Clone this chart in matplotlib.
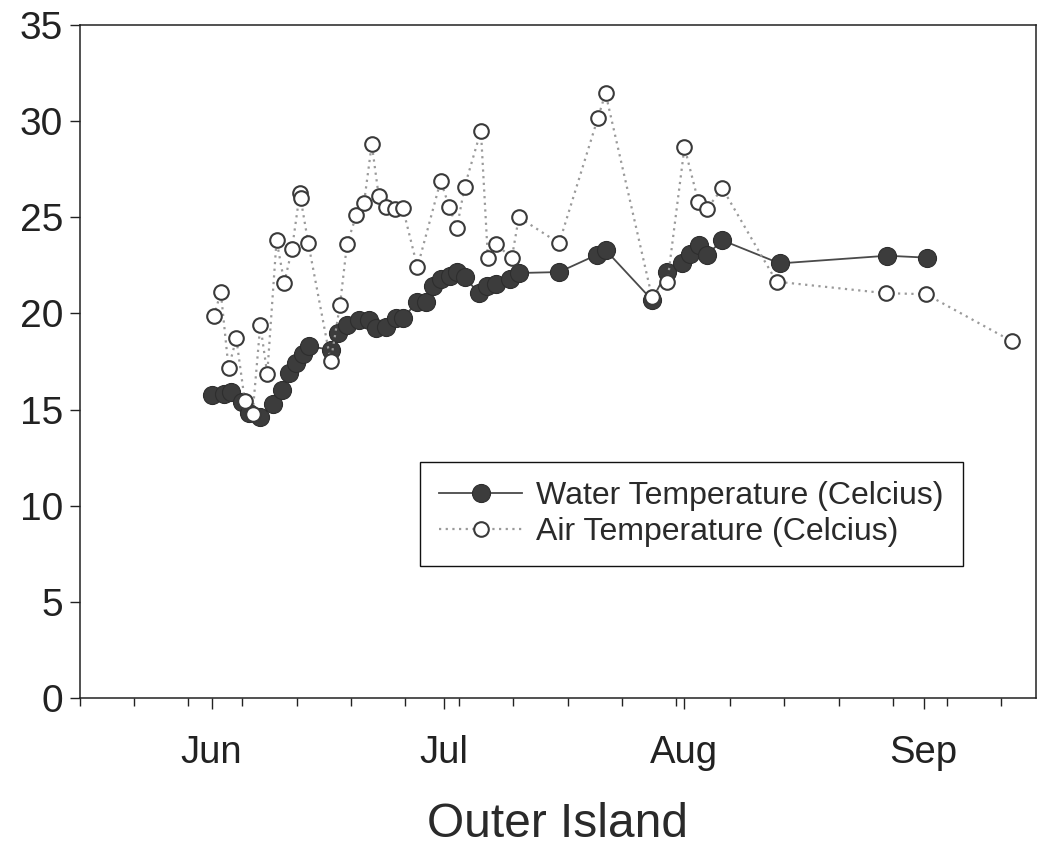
"""
Outer Island water / air temperature, Jun - Sep.
"""

import numpy as np
import matplotlib as mpl
import matplotlib.pyplot as plt

C_WATER_LINE = '#4a4a4a'
C_WATER_MK   = '#3c3c3c'
C_AIR_LINE   = '#9a9a9a'
C_AIR_EDGE   = '#3a3a3a'

# ── 1. Data (days counted from 1 June) ───────────────────────────────────────
water_day = [0.0, 1.6, 2.5, 3.9, 4.8, 6.3, 8.0, 9.1, 10.0, 10.9, 11.8, 12.6,
             15.4, 16.4, 17.5, 19.0, 20.3, 21.3, 22.5, 23.8, 24.8, 26.5,
             27.7, 28.6, 29.6, 30.8, 31.7, 32.7, 34.5, 35.6, 36.7, 38.5,
             39.7, 44.9, 49.8, 50.9, 56.9, 58.8, 60.8, 61.8, 63.0, 64.0,
             66.0, 73.4, 87.3, 92.4]
water_temp = [15.75, 15.8, 15.9, 15.4, 14.8, 14.6, 15.3, 16.0, 16.9, 17.4,
              17.9, 18.3, 18.1, 19.0, 19.4, 19.65, 19.65, 19.25, 19.3, 19.75,
              19.75, 20.6, 20.6, 21.4, 21.8, 21.95, 22.15, 21.9, 21.05, 21.45,
              21.55, 21.8, 22.1, 22.15, 23.05, 23.3, 20.7, 22.15, 22.6, 23.1,
              23.55, 23.05, 23.8, 22.6, 23.0, 22.9]

air_day = [0.3, 1.2, 2.2, 3.2, 4.3, 5.3, 6.3, 7.2, 8.4, 9.4, 10.4, 11.4,
           11.5, 12.5, 15.4, 16.6, 17.5, 18.7, 19.7, 20.7, 21.6, 22.5, 23.7,
           24.7, 26.6, 29.6, 30.7, 31.7, 32.7, 34.8, 35.7, 36.7, 38.8, 39.7,
           44.9, 49.9, 50.9, 56.9, 58.9, 61.1, 62.9, 64.0, 66.0, 73.0, 87.1,
           92.3, 103.4]
air_temp = [19.85, 21.1, 17.15, 18.7, 15.45, 14.75, 19.4, 16.85, 23.8, 21.6,
            23.35, 26.25, 26.0, 23.65, 17.5, 20.45, 23.6, 25.1, 25.75, 28.8,
            26.1, 25.55, 25.45, 25.5, 22.4, 26.9, 25.55, 24.45, 26.6, 29.5,
            22.9, 23.6, 22.9, 25.0, 23.65, 30.15, 31.45, 20.85, 21.65, 28.65,
            25.8, 25.45, 26.5, 21.65, 21.05, 21.0, 18.55]

month_day    = [0, 30, 61, 92]
month_labels = ['Jun', 'Jul', 'Aug', 'Sep']
week_day     = list(range(-17, 106, 7))   # weekly ticks from 15 May
y_ticks      = [0, 5, 10, 15, 20, 25, 30, 35]

# ── 2. Style ─────────────────────────────────────────────────────────────────
mpl.rcParams.update({
    'font.family':     ['Liberation Sans', 'DejaVu Sans'],
    'axes.linewidth':  1.1,
    'xtick.direction': 'out',
    'ytick.direction': 'out',
})

fig = plt.figure(figsize=(10.38, 8.48), dpi=100)
ax = fig.add_axes([0.077, 0.177, 0.921, 0.7935])

# ── 3. Series ────────────────────────────────────────────────────────────────
ax.plot(water_day, water_temp, color=C_WATER_LINE, lw=1.3, marker='o',
        ms=13, mfc=C_WATER_MK, mec='#2e2e2e', mew=0.8, zorder=3,
        label='Water Temperature (Celcius)')
ax.plot(air_day, air_temp, color=C_AIR_LINE, lw=1.6, ls=(0, (1, 2)),
        marker='o', ms=10.5, mfc='white', mec=C_AIR_EDGE, mew=1.5, zorder=4,
        label='Air Temperature (Celcius)')

# ── 4. Axes ──────────────────────────────────────────────────────────────────
ax.set_xlim(-17, 106.5)
ax.set_ylim(0, 35)
ax.set_yticks(y_ticks)
ax.tick_params(axis='y', labelsize=28, length=7, width=1, pad=5,
               colors='#222222')
ax.set_xticks(month_day)
ax.set_xticklabels(month_labels)
ax.set_xticks(week_day, minor=True)
ax.tick_params(axis='x', which='major', labelsize=27.5, length=8, width=1,
               pad=19, colors='#222222')
ax.tick_params(axis='x', which='minor', length=6, width=1, color='#222222')
ax.set_xlabel('Outer Island', fontsize=34.5, color='#2a2a2a', labelpad=22)

for s in ax.spines.values():
    s.set_color('#222222')

leg = ax.legend(loc='center', bbox_to_anchor=(0.6397, 0.2734), fontsize=23,
                frameon=True, fancybox=False, edgecolor='#111111',
                framealpha=1, handlelength=2.6, handletextpad=0.45,
                labelspacing=0.2, borderpad=0.6, borderaxespad=0)
leg.get_frame().set_linewidth(1.0)
for t in leg.get_texts():
    t.set_color('#2a2a2a')

# ── 5. Save ──────────────────────────────────────────────────────────────────
fig.savefig('out.png', dpi=100)
